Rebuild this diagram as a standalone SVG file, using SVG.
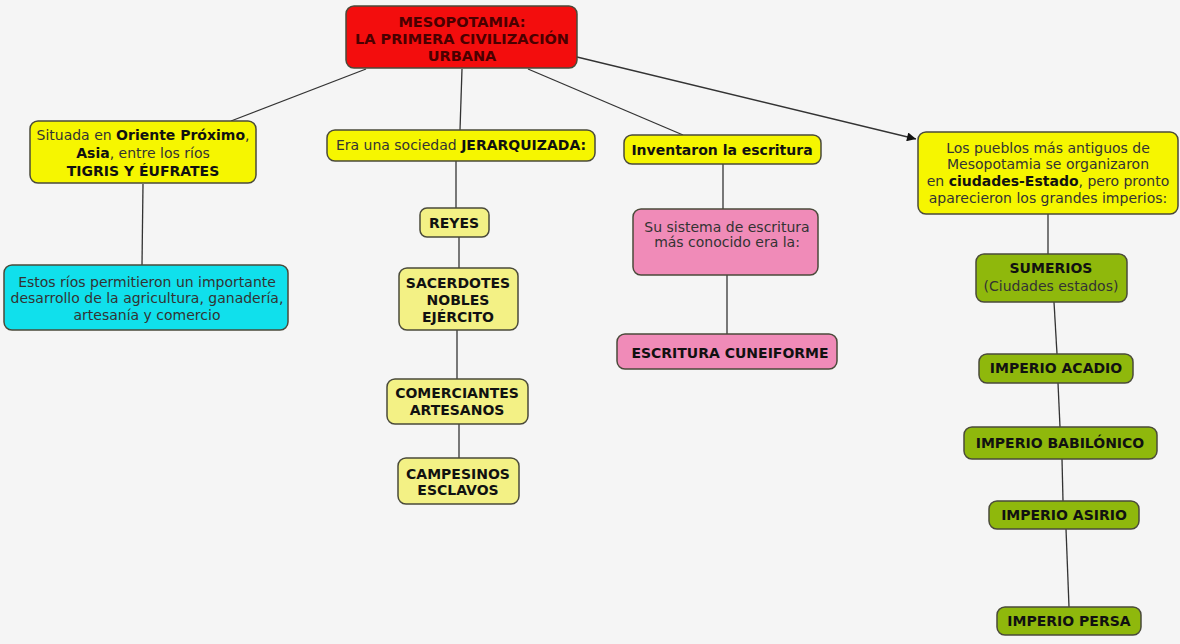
<svg xmlns="http://www.w3.org/2000/svg" width="1180" height="644" viewBox="0 0 1180 644">
<defs>
<marker id="arr" viewBox="0 0 10 10" refX="10" refY="5" markerWidth="11" markerHeight="9" markerUnits="userSpaceOnUse" orient="auto"><path d="M0,0 L10,5 L0,10 z" fill="#111"/></marker>
<style>
text{font-family:"DejaVu Sans","Liberation Sans",sans-serif;font-size:14px;fill:#333;text-anchor:middle;dominant-baseline:central}
.b{font-weight:bold;fill:#111}
.box{stroke:#4a4a3a;stroke-width:1.5}
.root{fill:#f30d0d}
.yel{fill:#f6f600}
.pale{fill:#f3f185}
.cyan{fill:#10e0ec}
.pink{fill:#f08bb8}
.grn{fill:#8fb80c}
.ln{stroke:#333;stroke-width:1.3;fill:none}
.rt{font-weight:bold;fill:#4a0000;font-size:14.5px}
</style>
</defs>
<rect width="1180" height="644" fill="#f5f5f5"/>
<g id="connectors">
<line class="ln" x1="366" y1="69" x2="231" y2="121"/>
<line class="ln" x1="462" y1="69" x2="460" y2="130"/>
<line class="ln" x1="528" y1="69" x2="683" y2="135"/>
<line class="ln" x1="577" y1="57" x2="916" y2="139" marker-end="url(#arr)"/>
<line class="ln" x1="143" y1="184" x2="142" y2="265"/>
<line class="ln" x1="456" y1="161" x2="456" y2="208"/>
<line class="ln" x1="459" y1="237" x2="459" y2="268"/>
<line class="ln" x1="457" y1="330" x2="457" y2="379"/>
<line class="ln" x1="459" y1="424" x2="459" y2="458"/>
<line class="ln" x1="723" y1="164" x2="723" y2="209"/>
<line class="ln" x1="727" y1="275" x2="727" y2="334"/>
<line class="ln" x1="1048" y1="214" x2="1048" y2="254"/>
<line class="ln" x1="1054" y1="302" x2="1057" y2="354"/>
<line class="ln" x1="1058" y1="383" x2="1060" y2="427"/>
<line class="ln" x1="1062" y1="459" x2="1063" y2="501"/>
<line class="ln" x1="1066" y1="529" x2="1069" y2="607"/>
</g>
<g id="root">
<rect class="box root" x="346" y="6" width="231" height="62" rx="8"/>
<text class="rt" x="462" y="22">MESOPOTAMIA:</text>
<text class="rt" x="462" y="39">LA PRIMERA CIVILIZACIÓN</text>
<text class="rt" x="462" y="56">URBANA</text>
</g>
<g id="situada">
<rect class="box yel" x="30" y="121" width="226" height="62" rx="8"/>
<text x="143" y="135">Situada en <tspan class="b">Oriente Próximo</tspan>,</text>
<text x="143" y="153"><tspan class="b">Asia</tspan>, entre los ríos</text>
<text class="b" x="143" y="171">TIGRIS Y ÉUFRATES</text>
</g>
<g id="estos">
<rect class="box cyan" x="4" y="265" width="284" height="65" rx="8"/>
<text x="147" y="282">Estos ríos permitieron un importante</text>
<text x="147" y="298">desarrollo de la agricultura, ganadería,</text>
<text x="147" y="315">artesanía y comercio</text>
</g>
<g id="jerarquizada">
<rect class="box yel" x="327" y="130" width="268" height="31" rx="8"/>
<text x="461" y="145">Era una sociedad <tspan class="b">JERARQUIZADA:</tspan></text>
</g>
<g id="reyes">
<rect class="box pale" x="420" y="208" width="69" height="29" rx="7"/>
<text class="b" x="454" y="223">REYES</text>
</g>
<g id="sacerdotes">
<rect class="box pale" x="399" y="268" width="119" height="62" rx="8"/>
<text class="b" x="458" y="283">SACERDOTES</text>
<text class="b" x="458" y="300">NOBLES</text>
<text class="b" x="458" y="317">EJÉRCITO</text>
</g>
<g id="comerciantes">
<rect class="box pale" x="387" y="379" width="141" height="45" rx="8"/>
<text class="b" x="457" y="393">COMERCIANTES</text>
<text class="b" x="457" y="410">ARTESANOS</text>
</g>
<g id="campesinos">
<rect class="box pale" x="398" y="458" width="121" height="46" rx="8"/>
<text class="b" x="458" y="474">CAMPESINOS</text>
<text class="b" x="458" y="490">ESCLAVOS</text>
</g>
<g id="inventaron">
<rect class="box yel" x="624" y="135" width="197" height="29" rx="8"/>
<text class="b" x="722" y="150">Inventaron la escritura</text>
</g>
<g id="sistema">
<rect class="box pink" x="633" y="209" width="185" height="66" rx="8"/>
<text x="727" y="227">Su sistema de escritura</text>
<text x="727" y="242">más conocido era la:</text>
</g>
<g id="cuneiforme">
<rect class="box pink" x="617" y="334" width="220" height="35" rx="8"/>
<text class="b" x="730" y="353">ESCRITURA CUNEIFORME</text>
</g>
<g id="pueblos">
<rect class="box yel" x="918" y="132" width="260" height="82" rx="8"/>
<text x="1048" y="148">Los pueblos más antiguos de</text>
<text x="1048" y="164">Mesopotamia se organizaron</text>
<text x="1048" y="181">en <tspan class="b">ciudades-Estado</tspan>, pero pronto</text>
<text x="1048" y="198">aparecieron los grandes imperios:</text>
</g>
<g id="sumerios">
<rect class="box grn" x="976" y="254" width="151" height="48" rx="8"/>
<text class="b" x="1051" y="268">SUMERIOS</text>
<text x="1051" y="286">(Ciudades estados)</text>
</g>
<g id="acadio">
<rect class="box grn" x="979" y="354" width="154" height="29" rx="8"/>
<text class="b" x="1056" y="368">IMPERIO ACADIO</text>
</g>
<g id="babilonico">
<rect class="box grn" x="964" y="427" width="193" height="32" rx="8"/>
<text class="b" x="1060" y="443">IMPERIO BABILÓNICO</text>
</g>
<g id="asirio">
<rect class="box grn" x="989" y="501" width="150" height="28" rx="8"/>
<text class="b" x="1064" y="515">IMPERIO ASIRIO</text>
</g>
<g id="persa">
<rect class="box grn" x="997" y="607" width="144" height="28" rx="8"/>
<text class="b" x="1069" y="621">IMPERIO PERSA</text>
</g>
</svg>
